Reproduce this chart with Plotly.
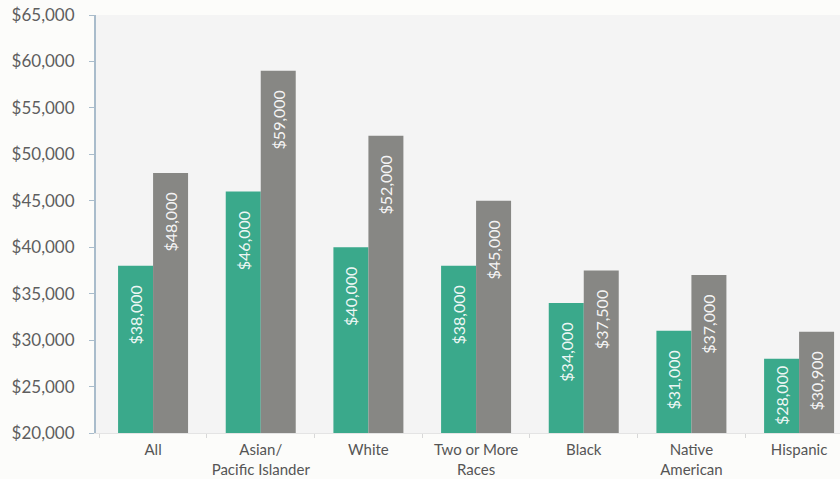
import plotly.graph_objects as go

categories = ["All", "Asian/<br>Pacific Islander", "White", "Two or More<br>Races",
              "Black", "Native<br>American", "Hispanic"]
green_values = [38000, 46000, 40000, 38000, 34000, 31000, 28000]
gray_values = [48000, 59000, 52000, 45000, 37500, 37000, 30900]
y_ticks = [20000, 25000, 30000, 35000, 40000, 45000, 50000, 55000, 60000, 65000]

NB = "\u00a0"


def labels(vals):
    out = []
    for v in vals:
        pad = NB * 4 if v >= 30000 else NB
        out.append(f"${v:,.0f}" + pad)
    return out


FONT = "Lato"
GREEN = "#3aa98b"
GRAY = "#878784"

fig = go.Figure()
for vals, color in [(green_values, GREEN), (gray_values, GRAY)]:
    fig.add_trace(go.Bar(
        x=categories, y=vals, marker=dict(color=color, line=dict(width=0)),
        text=labels(vals), textposition="inside", insidetextanchor="end",
        textangle=-90,
        insidetextfont=dict(family=FONT, size=16, color="rgba(255,255,255,0.93)"),
        hoverinfo="skip",
    ))

fig.update_layout(
    width=840, height=479,
    margin=dict(l=96, r=0, t=15, b=46),
    paper_bgcolor="#fcfcfa", plot_bgcolor="#f4f4f4",
    barmode="group", bargap=0.35, bargroupgap=0,
    showlegend=False,
    uniformtext=dict(minsize=16, mode="show"),
    font=dict(family=FONT, color="#5a5a5a"),
)
fig.update_xaxes(
    range=[-0.53, 6.38], tickson="boundaries", ticks="outside", ticklen=4,
    tickcolor="#d8d8d8", showline=True, linecolor="#e4e4e4", linewidth=1,
    showgrid=False, tickangle=0, ticklabelstandoff=3, automargin=False,
    tickfont=dict(family=FONT, size=15, color="#555"),
)
fig.update_yaxes(
    range=[20000, 65000], tickvals=y_ticks,
    ticktext=[f"${v:,.0f}" for v in y_ticks],
    ticks="outside", ticklen=5, tickcolor="#a9bccb", showline=True,
    linecolor="#a9bccb", linewidth=2, showgrid=False, zeroline=False,
    ticklabelstandoff=11, automargin=False,
    tickfont=dict(family=FONT, size=17, color="#5e5e5e"),
)

fig.write_html("out.html", config={"displayModeBar": False},
               post_script="document.body.style.margin='0';")
